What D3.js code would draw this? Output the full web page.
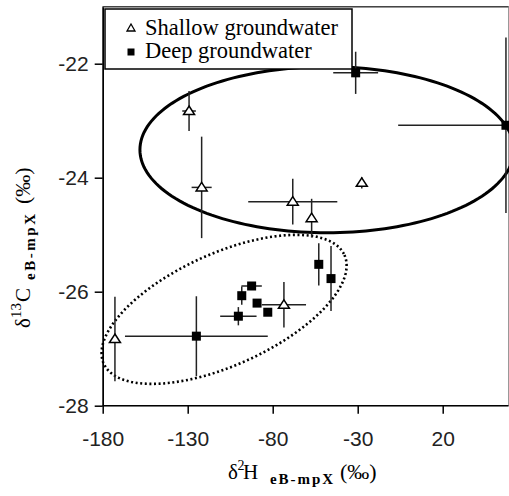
<!DOCTYPE html>
<html><head><meta charset="utf-8">
<script src="https://cdnjs.cloudflare.com/ajax/libs/d3/7.8.5/d3.min.js"></script>
<style>body{margin:0;background:#fff}svg{display:block}</style>
</head><body>
<svg id="c" width="509" height="496"></svg>
<script>
// ---- data ----
const shallowX    = [-129.2, -121.8, -68.2, -57.1, -27.6, -172.8, -73.4];
const shallowY    = [-22.83, -24.17, -24.42, -24.71, -24.09, -26.83, -26.23];
const shallowXErr = [4, 5.9, 26.2, 0, 1.8, 0, 13];
const shallowYErr = [0.35, 0.89, 0.4, 0.34, 0.1, 0.74, 0.4];

const deepX    = [-31.2, 57.2, -124.9, -52.9, -45.7, -100.2, -98.2, -92.4, -89.2, -82.9];
const deepY    = [-22.16, -23.08, -26.78, -25.52, -25.77, -26.43, -26.07, -25.9, -26.2, -26.36];
const deepXErr = [13.2, 63.4, 42, 0, 0, 10.7, 0, 6, 0, 0];
const deepYErr = [0.37, 1.54, 0.7, 0.37, 0.57, 0.16, 0.16, 0, 0, 0];

const xTicks = [-180, -130, -80, -30, 20];
const yTicks = [-28, -26, -24, -22];
const seriesNames = ["Shallow groundwater", "Deep groundwater"];

// group ellipses (data units): centre, semi-axis vectors u and v
const ellipseCenter = [[-48.1, -23.51], [-108.6, -26.31]];
const ellipseU = [[110, 0], [70.8, 0.953]];
const ellipseV = [[0, 1.456], [13.5, -0.895]];

// ---- chart ----
const svg = d3.select("#c");
const x = d3.scaleLinear().domain([-180, 58.7]).range([102.7, 508.5]);
const y = d3.scaleLinear().domain([-28, -21]).range([405.7, 6.7]);

// frame
svg.append("rect").attr("x", x(-180)).attr("y", y(-21))
  .attr("width", x(58.7) - x(-180)).attr("height", y(-28) - y(-21))
  .attr("fill", "none").attr("stroke", "#999").attr("stroke-width", 1);
svg.append("line").attr("x1", x(-180)).attr("x2", x(58.7)).attr("y1", y(-21)).attr("y2", y(-21))
  .attr("stroke", "#444").attr("stroke-width", 1.4);

// ellipses
const line = d3.line().curve(d3.curveLinearClosed);
ellipseCenter.forEach((c, i) => {
  const pts = d3.range(0, 360, 2).map(a => {
    const t = a * Math.PI / 180;
    return [x(c[0] + ellipseU[i][0] * Math.cos(t) + ellipseV[i][0] * Math.sin(t)),
            y(c[1] + ellipseU[i][1] * Math.cos(t) + ellipseV[i][1] * Math.sin(t))];
  });
  svg.append("path").attr("d", line(pts)).attr("fill", "none")
    .attr("stroke", "#000")
    .attr("stroke-width", i === 0 ? 3 : 2.6)
    .attr("stroke-dasharray", i === 0 ? null : "2,2.6");
});

// error bars
function errBars(xs, ys, xe, ye) {
  const g = svg.append("g").attr("stroke", "#222").attr("stroke-width", 1.5);
  xs.forEach((v, i) => {
    if (xe[i] > 0) g.append("line").attr("x1", x(v - xe[i])).attr("x2", x(v + xe[i]))
      .attr("y1", y(ys[i])).attr("y2", y(ys[i]));
    if (ye[i] > 0) g.append("line").attr("x1", x(v)).attr("x2", x(v))
      .attr("y1", y(ys[i] - ye[i])).attr("y2", y(ys[i] + ye[i]));
  });
}
errBars(shallowX, shallowY, shallowXErr, shallowYErr);
errBars(deepX, deepY, deepXErr, deepYErr);

const triPath = "M0,-5L5.5,3.5L-5.5,3.5Z";
shallowX.forEach((v, i) => {
  svg.append("path").attr("d", triPath)
    .attr("transform", `translate(${x(v)},${y(shallowY[i])})`)
    .attr("fill", "#fff").attr("stroke", "#000").attr("stroke-width", 1.5);
});
deepX.forEach((v, i) => {
  svg.append("rect").attr("x", x(v) - 4.5).attr("y", y(deepY[i]) - 4.5)
    .attr("width", 9).attr("height", 9).attr("fill", "#000");
});

// axes
const fmt = d => String(d);
const xAxis = svg.append("g").attr("transform", `translate(0,${y(-28)})`)
  .call(d3.axisBottom(x).tickValues(xTicks).tickFormat(fmt).tickSize(8).tickPadding(17).tickSizeOuter(0));
const yAxis = svg.append("g").attr("transform", `translate(${x(-180)},0)`)
  .call(d3.axisLeft(y).tickValues(yTicks).tickFormat(fmt).tickSize(8).tickPadding(6).tickSizeOuter(0));
[xAxis, yAxis].forEach(a => {
  a.select(".domain").attr("stroke", "#000").attr("stroke-width", 1.6);
  a.selectAll(".tick line").attr("stroke", "#000").attr("stroke-width", 1.5);
  a.selectAll("text").attr("font-family", "'Liberation Sans', Arial, sans-serif")
    .attr("font-size", 21).attr("fill", "#222");
});
xAxis.selectAll(".domain").attr("d", `M${x(-180)},0H${x(58.7)}`);

// legend
const lg = svg.append("g");
lg.append("rect").attr("x", 105).attr("y", 9).attr("width", 247).attr("height", 60)
  .attr("fill", "#fff").attr("stroke", "#000").attr("stroke-width", 1.5);
lg.append("path").attr("d", "M0,-4L4,3L-4,3Z").attr("transform", "translate(131,28)")
  .attr("fill", "#fff").attr("stroke", "#000").attr("stroke-width", 1.3);
lg.append("rect").attr("x", 127.5).attr("y", 48.5).attr("width", 7).attr("height", 7).attr("fill", "#000");
seriesNames.forEach((n, i) => {
  lg.append("text").attr("x", 145).attr("y", 35 + i * 23)
    .attr("font-family", "'Liberation Serif', 'Times New Roman', serif")
    .attr("font-size", 22.5).attr("fill", "#000").text(n);
});

// axis titles
const serif = "'Liberation Serif', 'Times New Roman', serif";
const xt = svg.append("text").attr("font-family", serif).attr("fill", "#000");
xt.append("tspan").attr("x", 228).attr("y", 479).attr("font-size", 21).text("δ");
xt.append("tspan").attr("x", 237.5).attr("y", 470).attr("font-size", 14).text("2");
xt.append("tspan").attr("x", 243).attr("y", 479).attr("font-size", 21).text("H");
xt.append("tspan").attr("x", 270).attr("y", 484).attr("font-size", 15).attr("font-weight", "bold")
  .attr("textLength", 63).text("eB-mpX");
xt.append("tspan").attr("x", 340).attr("y", 479).attr("font-size", 22).text("(‰)");

const yt = svg.append("text").attr("font-family", serif).attr("fill", "#000")
  .attr("transform", "translate(0,328) rotate(-90)");
yt.append("tspan").attr("x", 0).attr("y", 30).attr("font-size", 21).text("δ");
yt.append("tspan").attr("x", 10).attr("y", 21).attr("font-size", 15).text("13");
yt.append("tspan").attr("x", 26).attr("y", 30).attr("font-size", 21).text("C");
yt.append("tspan").attr("x", 48).attr("y", 35).attr("font-size", 15).attr("font-weight", "bold")
  .attr("textLength", 66).text("eB-mpX");
yt.append("tspan").attr("x", 124).attr("y", 30).attr("font-size", 22).text("(‰)");
</script>
</body></html>
